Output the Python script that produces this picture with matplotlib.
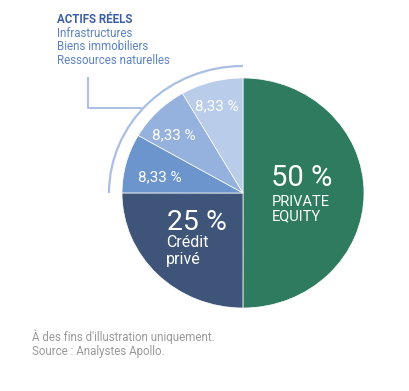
import matplotlib
matplotlib.use("Agg")
import matplotlib.pyplot as plt
from matplotlib.patches import Arc

plt.rcParams['font.family'] = ['Roboto', 'DejaVu Sans']

# data
shares = [50, 25, 8.33, 8.33, 8.33]
colors = ['#2e7b5f', '#3e5479', '#6c95cd', '#95b2de', '#b9cce9']
small_labels = ['8,33 %', '8,33 %', '8,33 %']
header = 'ACTIFS RÉELS'
sub_items = ['Infrastructures', 'Biens immobiliers', 'Ressources naturelles']
footer = ["À des fins d'illustration uniquement.", 'Source : Analystes Apollo.']

W, H = 409, 391
CX, CY = 243, 193      # pie centre in pixels
RX, RY = 121, 115      # pie radius in pixels (slightly stretched)

fig = plt.figure(figsize=(W / 100, H / 100), dpi=100)
ax = fig.add_axes([0, 0, 1, 1])
ax.axis('off')


def px(x, y):
    """pixel position -> data coords"""
    return (x - CX) / RX, (CY - y) / RY


ax.pie(shares, colors=colors, startangle=90, counterclock=False, radius=1,
       wedgeprops=dict(edgecolor='white', linewidth=0.5))
ax.set_xlim(-CX / RX, (W - CX) / RX)
ax.set_ylim(-(H - CY) / RY, CY / RY)
ax.set_aspect('auto')

# bracket arc around the real-assets slices
ax.add_patch(Arc((0, 0), 2 * 134 / RX, 2 * 127 / RY, theta1=90, theta2=180,
                 color='#a9bfe3', lw=1.6))
xs, ys = zip(px(88, 78), px(88, 108), px(141, 108))
ax.plot(xs, ys, color='#a9bfe3', lw=1.4)

# slice labels
ax.text(*px(271, 178), '50 %', color='white', fontsize=21, ha='left', va='center')
ax.text(*px(272, 209), 'PRIVATE\nEQUITY', color='white', fontsize=10.5, ha='left',
        va='center', linespacing=1.05)
ax.text(*px(167, 222), '25 %', color='white', fontsize=20.5, ha='left', va='center')
ax.text(*px(166, 251), 'Crédit\nprivé', color='white', fontsize=11.5, ha='left',
        va='center', linespacing=1.15)
for (x, y), lab in zip([(160, 177), (174, 135), (217, 106)], small_labels):
    ax.text(*px(x, y), lab, color='white', fontsize=11, ha='center', va='center')

# header text
ax.text(*px(57, 19), header, color='#3c5fa3', fontsize=8.3, fontweight='bold',
        ha='left', va='center')
for i, item in enumerate(sub_items):
    ax.text(*px(57, 33 + i * 13.5), item, color='#5d82c4', fontsize=8.3,
            ha='left', va='center')

# footer
for i, line in enumerate(footer):
    ax.text(*px(32, 337 + i * 14), line, color='#9a9a9a', fontsize=8.3,
            ha='left', va='center')

fig.savefig('out.png', dpi=100)
